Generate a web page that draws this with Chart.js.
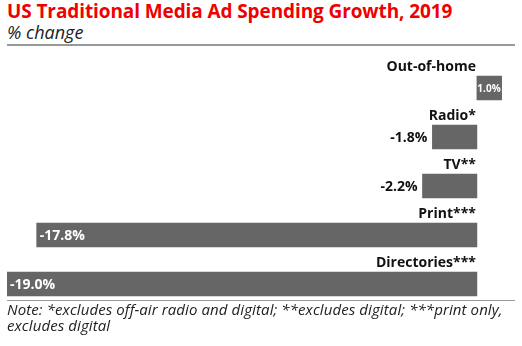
<!DOCTYPE html>
<html>
<head>
<meta charset="utf-8">
<script src="https://cdn.jsdelivr.net/npm/chart.js@4"></script>
<style>
  body { margin: 0; width: 522px; height: 346px; background: #fff; position: relative; overflow: hidden; font-family: "Open Sans", "Liberation Sans", sans-serif; }
  #title { position: absolute; left: 7px; top: -2px; font-size: 19px; font-weight: bold; color: #f00000; white-space: nowrap; letter-spacing: -0.1px; }
  #subtitle { position: absolute; left: 7px; top: 20px; font-size: 18px; font-style: italic; color: #222; }
  .rule { position: absolute; left: 7px; width: 508px; height: 2px; background: #999; }
  #note { position: absolute; left: 7px; top: 301px; width: 510px; font-size: 15px; line-height: 16px; font-style: italic; color: #222; letter-spacing: 0.1px; }
  #wrap { position: absolute; left: 0; top: 46px; width: 522px; height: 264px; }
</style>
</head>
<body>
<div id="title">US Traditional Media Ad Spending Growth, 2019</div>
<div id="subtitle">% change</div>
<div class="rule" style="top:44px"></div>
<div id="wrap"><canvas id="chart"></canvas></div>
<div class="rule" style="top:300px;height:1px"></div>
<div id="note">Note: *excludes off-air radio and digital; **excludes digital; ***print only, excludes digital</div>
<script>
// Données
const categories = ['Out-of-home', 'Radio*', 'TV**', 'Print***', 'Directories***'];
const growth = [1.0, -1.8, -2.2, -17.8, -19.0];
const valueLabels = ['1.0%', '-1.8%', '-2.2%', '-17.8%', '-19.0%'];

const FONT = '"Open Sans", "Liberation Sans", sans-serif';

// Plugin pour les libellés (catégorie au-dessus, valeur à côté)
const labelPlugin = {
  id: 'labels',
  afterDatasetsDraw(chart) {
    const ctx = chart.ctx;
    const meta = chart.getDatasetMeta(0);
    const zero = chart.scales.x.getPixelForValue(0);
    ctx.save();
    meta.data.forEach((bar, i) => {
      const top = bar.y - bar.height / 2;
      // catégorie
      ctx.font = 'bold 14px ' + FONT;
      ctx.fillStyle = '#111';
      ctx.textAlign = 'right';
      ctx.textBaseline = 'alphabetic';
      ctx.fillText(categories[i], zero - 1, top - 5);
      // valeur
      ctx.textBaseline = 'middle';
      const txt = valueLabels[i];
      if (growth[i] >= 0) {
        ctx.font = 'bold 10px ' + FONT;
        ctx.fillStyle = '#fff';
        ctx.textAlign = 'right';
        ctx.fillText(txt, bar.x - 1, bar.y + 1);
      } else {
        ctx.font = 'bold 14px ' + FONT;
        const w = ctx.measureText(txt).width;
        if (bar.x - w - 6 < 0) {
          ctx.fillStyle = '#fff';
          ctx.textAlign = 'left';
          ctx.fillText(txt, bar.x + 3, bar.y + 1);
        } else {
          ctx.fillStyle = '#111';
          ctx.textAlign = 'right';
          ctx.fillText(txt, bar.x - 5, bar.y + 1);
        }
      }
    });
    ctx.restore();
  }
};

new Chart(document.getElementById('chart').getContext('2d'), {
  type: 'bar',
  data: {
    labels: categories,
    datasets: [{
      data: growth,
      backgroundColor: '#666666',
      borderWidth: 0,
      barThickness: 24
    }]
  },
  options: {
    indexAxis: 'y',
    responsive: true,
    maintainAspectRatio: false,
    animation: false,
    layout: { padding: { left: 7, right: 7, top: 17.5, bottom: 1.5 } },
    plugins: { legend: { display: false }, tooltip: { enabled: false } },
    scales: {
      x: { display: false, min: -19, max: 1.54 },
      y: { display: false }
    }
  },
  plugins: [labelPlugin]
});
</script>
</body>
</html>
